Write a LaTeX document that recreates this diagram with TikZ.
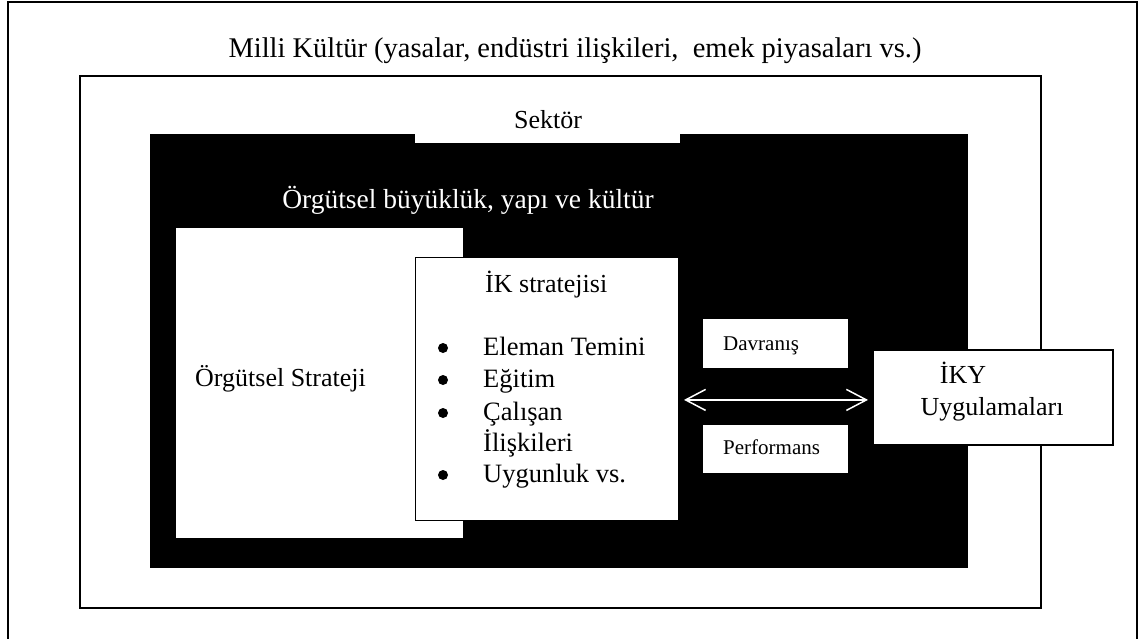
\documentclass[tikz,border=0pt]{standalone}
\usepackage{fontspec}
\setmainfont{Liberation Serif}
\usetikzlibrary{arrows.meta}
\begin{document}
\begin{tikzpicture}[x=1pt,y=-1pt,
  frame/.style={draw=black,line width=1.8pt,fill=white,inner sep=0pt,anchor=north west},
  panel/.style={fill=white,inner sep=0pt,anchor=north west},
  slab/.style={fill=black,inner sep=0pt,anchor=north west},
  thinbox/.style={draw=black,line width=1pt,fill=white,inner sep=0pt,anchor=north west},
  big/.style={inner sep=0pt,font=\fontsize{26}{31}\selectfont},
  small/.style={inner sep=0pt,anchor=base west,font=\fontsize{21}{25}\selectfont},
  dot/.style={circle,fill=black,inner sep=0pt,minimum size=10pt},
  link/.style={draw=white,line width=1.5pt,{Straight Barb[length=20pt,width=21pt]}-{Straight Barb[length=20pt,width=21pt]}}]
\useasboundingbox (0,0) rectangle (1145,638);
\clip (0,0) rectangle (1145,638);

% nested context frames
\node[frame,minimum width=1129pt,minimum height=700pt] (national) at (7,1) {};
\node[frame,minimum width=961pt,minimum height=532pt] (sector) at (79,75) {};
\node[slab,minimum width=818pt,minimum height=434pt] (org) at (150,134) {};
\node[panel,minimum width=265pt,minimum height=38pt] (sectortab) at (415,105) {};

% inner boxes
\node[panel,minimum width=287pt,minimum height=310pt] (orgstrat) at (176,228) {};
\node[thinbox,minimum width=263pt,minimum height=263pt] (hrs) at (415,257) {};
\node[panel,minimum width=145pt,minimum height=49pt] (behav) at (703,319) {};
\node[panel,minimum width=145pt,minimum height=48pt] (perf) at (703,425) {};
\node[frame,minimum width=240pt,minimum height=95pt] (hrm) at (872,349) {};

% labels
\node[big,anchor=base,font=\fontsize{28.5}{33}\selectfont] (tnational) at (575,57) {Milli Kültür (yasalar, endüstri ilişkileri,\ \ emek piyasaları vs.)};
\node[big,anchor=base] (tsector) at (548,128) {Sektör};
\node[big,anchor=base,text=white,font=\fontsize{27.5}{33}\selectfont] (torg) at (468,208) {Örgütsel büyüklük, yapı ve kültür};
\node[big,anchor=base west] (torgstrat) at (195,386) {Örgütsel Strateji};
\node[big,anchor=base west] (thrs) at (485,292) {İK stratejisi};
\foreach \y/\t/\b [count=\i] in {355/Eleman Temini/1, 387/Eğitim/1, 420/Çalışan/1, 451/İlişkileri/0, 482/Uygunluk vs./1}{
  \ifnum\b=1 \node[dot] (bul\i) at (443,\y-7) {}; \fi
  \node[big,anchor=base west,font=\fontsize{26.5}{31}\selectfont] (item\i) at (483,\y) {\t};
}
\node[small] (tbehav) at (723,350) {Davranış};
\node[small] (tperf) at (723,454) {Performans};
\node[big,anchor=base] (thrm1) at (963,383) {İKY};
\node[big,anchor=base] (thrm2) at (992,415) {Uygulamaları};

% two-way link between HR strategy and HRM practices
\draw[link,shorten <=5pt,shorten >=4pt] ([yshift=-2.5pt]hrs.east |- hrm.west) -- ([yshift=-2.5pt]hrm.west);
\end{tikzpicture}
\end{document}
